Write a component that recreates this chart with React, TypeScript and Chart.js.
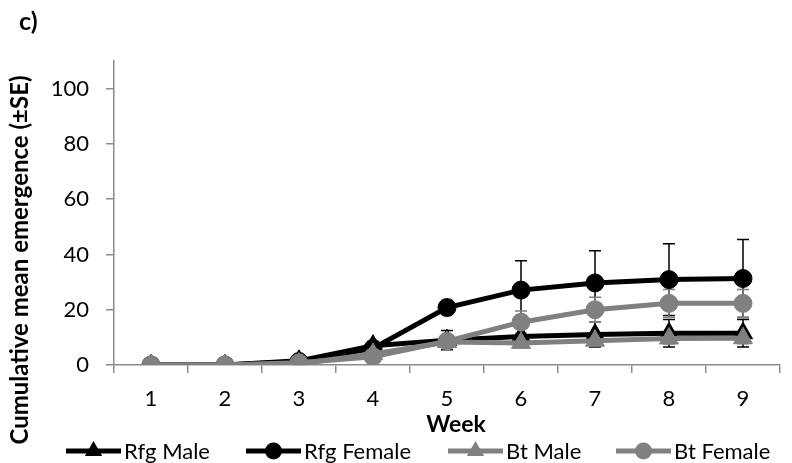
import React, { useEffect, useRef } from 'react';
import { Chart, registerables } from 'chart.js';

Chart.register(...registerables);

const weeks = ['1', '2', '3', '4', '5', '6', '7', '8', '9'];

const rfgMale = [0, 0, 1.5, 7, 9, 10.3, 11, 11.5, 11.5];
const rfgMaleSE = [0, 0, 0.5, 1.5, 3.5, 4, 4.5, 5, 5];
const rfgFemale = [0, 0, 1.3, 6, 20.8, 27.1, 29.7, 30.9, 31.3];
const rfgFemaleSE = [0, 0, 0.5, 1.5, 2.5, 10.6, 11.6, 13, 14.1];
const btMale = [0, 0, 0.5, 4, 8.3, 8, 8.8, 9.6, 9.7];
const btMaleSE = [0, 0, 0.3, 1, 1.5, 1.5, 1.8, 2, 2];
const btFemale = [0, 0, 0.8, 3, 8.6, 15.5, 20, 22.3, 22.3];
const btFemaleSE = [0, 0, 0.3, 1, 2, 4, 4.5, 5, 5];

const yMin = 0;
const yMax = 110;
const yStep = 20;

const panelLabel = 'c)';
const xTitle = 'Week';
const yTitle = 'Cumulative mean emergence (±SE)';

const BLACK = '#000000';
const GREY = '#808080';
const AXIS = '#8c8c8c';
const FONT = 'Lato, "Open Sans", sans-serif';

type Series = { label: string; data: number[]; se: number[]; color: string; style: 'triangle' | 'circle' };
const seriesList: Series[] = [
  { label: 'Rfg Male', data: rfgMale, se: rfgMaleSE, color: BLACK, style: 'triangle' },
  { label: 'Rfg Female', data: rfgFemale, se: rfgFemaleSE, color: BLACK, style: 'circle' },
  { label: 'Bt Male', data: btMale, se: btMaleSE, color: GREY, style: 'triangle' },
  { label: 'Bt Female', data: btFemale, se: btFemaleSE, color: GREY, style: 'circle' },
];

function drawMarker(ctx: CanvasRenderingContext2D, style: string, x: number, y: number, r: number, color: string) {
  ctx.save();
  ctx.fillStyle = color;
  ctx.beginPath();
  if (style === 'circle') {
    ctx.arc(x, y, r, 0, Math.PI * 2);
  } else {
    const h = r * 1.5;
    const w = r * Math.sqrt(3);
    ctx.moveTo(x, y - r);
    ctx.lineTo(x + w / 2, y - r + h);
    ctx.lineTo(x - w / 2, y - r + h);
    ctx.closePath();
  }
  ctx.fill();
  ctx.restore();
}

const errorBarPlugin = {
  id: 'errorBars',
  beforeDatasetsDraw(chart: any) {
    const ctx = chart.ctx as CanvasRenderingContext2D;
    const xs = chart.scales.x;
    const ys = chart.scales.y;
    ctx.save();
    ctx.lineWidth = 1.5;
    seriesList.forEach((s) => {
      ctx.strokeStyle = s.color === BLACK ? BLACK : GREY;
      s.data.forEach((v, i) => {
        const e = s.se[i];
        if (!e) return;
        const x = xs.getPixelForValue(i);
        const yTop = ys.getPixelForValue(v + e);
        const yBot = ys.getPixelForValue(v - e);
        ctx.beginPath();
        ctx.moveTo(x, yTop);
        ctx.lineTo(x, yBot);
        ctx.moveTo(x - 6, yTop);
        ctx.lineTo(x + 6, yTop);
        ctx.moveTo(x - 6, yBot);
        ctx.lineTo(x + 6, yBot);
        ctx.stroke();
      });
    });
    ctx.restore();
  },
};

const legendStarts = [66, 246, 448, 616];

const decorPlugin = {
  id: 'decor',
  afterDraw(chart: any) {
    const ctx = chart.ctx as CanvasRenderingContext2D;
    const area = chart.chartArea;
    ctx.save();
    ctx.fillStyle = '#000';
    // panel label
    ctx.font = `bold 25px ${FONT}`;
    ctx.textAlign = 'left';
    ctx.textBaseline = 'middle';
    ctx.fillText(panelLabel, 19, 22);
    // x title
    ctx.font = `bold 23px ${FONT}`;
    ctx.textAlign = 'center';
    ctx.fillText(xTitle, (area.left + area.right) / 2 + 9, 425);
    // y title
    ctx.save();
    ctx.translate(20, 260);
    ctx.rotate(-Math.PI / 2);
    ctx.font = `bold 24px ${FONT}`;
    ctx.textAlign = 'center';
    ctx.textBaseline = 'middle';
    ctx.fillText(yTitle, 0, 0);
    ctx.restore();
    // legend
    ctx.font = `22px ${FONT}`;
    ctx.textBaseline = 'middle';
    ctx.textAlign = 'left';
    const lineLen = 55;
    const gapText = 3;
    const ly = 451;
    seriesList.forEach((s, i) => {
      const x = legendStarts[i];
      ctx.strokeStyle = s.color;
      ctx.lineWidth = 5;
      ctx.beginPath();
      ctx.moveTo(x, ly);
      ctx.lineTo(x + lineLen, ly);
      ctx.stroke();
      drawMarker(ctx, s.style, x + lineLen / 2, ly, s.style === 'circle' ? 8.5 : 10, s.color);
      ctx.fillStyle = '#000';
      ctx.fillText(s.label, x + lineLen + gapText, ly + 1);
    });
    ctx.restore();
  },
};

export default function App() {
  const ref = useRef<HTMLCanvasElement | null>(null);
  useEffect(() => {
    document.body.style.margin = '0';
    if (!ref.current) return;
    const n = seriesList.length;
    const chart = new Chart(ref.current, {
      type: 'line',
      data: {
        labels: weeks,
        datasets: seriesList.map((s, i) => ({
          label: s.label,
          data: s.data,
          borderColor: s.color,
          backgroundColor: s.color,
          pointBackgroundColor: s.color,
          pointBorderColor: s.color,
          pointStyle: s.style,
          pointRadius: s.style === 'circle' ? 9 : 11,
          pointBorderWidth: 1,
          borderWidth: 5,
          tension: 0,
          order: n - 1 - i,
        })),
      },
      options: {
        animation: false,
        responsive: false,
        maintainAspectRatio: false,
        layout: { padding: { top: 61, right: 0, left: 0, bottom: 0 } },
        plugins: {
          legend: { display: false },
          tooltip: { enabled: false },
          title: { display: false },
        },
        scales: {
          x: {
            type: 'category',
            offset: true,
            grid: {
              offset: true,
              drawOnChartArea: false,
              drawTicks: true,
              tickLength: 8,
              color: AXIS,
              lineWidth: 1.5,
            },
            border: { color: AXIS, width: 1.5 },
            ticks: {
              color: '#000',
              font: { family: FONT, size: 22 },
              padding: 13,
              maxRotation: 0,
            },
            afterFit: (scale: any) => {
              scale.height = 98;
            },
          },
          y: {
            min: yMin,
            max: yMax,
            grid: {
              drawOnChartArea: false,
              drawTicks: true,
              tickLength: 8,
              color: AXIS,
              lineWidth: 1.5,
            },
            border: { color: AXIS, width: 1.5 },
            ticks: {
              stepSize: yStep,
              includeBounds: false,
              color: '#000',
              font: { family: FONT, size: 22 },
              padding: 17,
            },
            afterFit: (scale: any) => {
              scale.width = 114;
            },
          },
        },
      },
      plugins: [errorBarPlugin, decorPlugin],
    } as any);
    return () => chart.destroy();
  }, []);
  return (
    <div style={{ position: 'absolute', left: 0, top: 0, width: 792, height: 463 }}>
      <canvas ref={ref} width={792} height={463} style={{ display: 'block' }} />
    </div>
  );
}
